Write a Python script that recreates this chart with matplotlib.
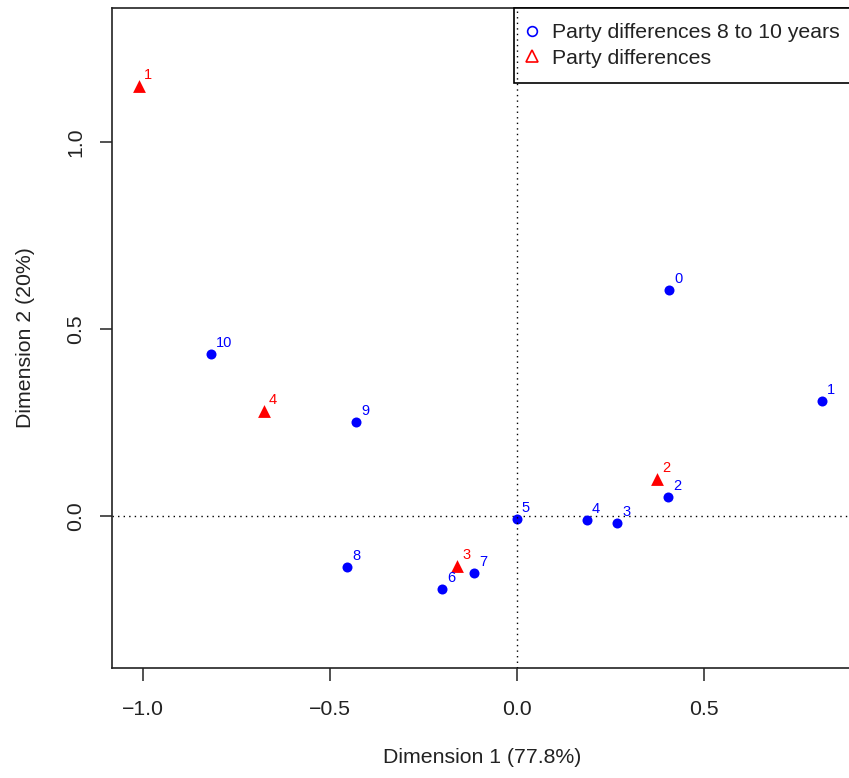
import matplotlib.pyplot as plt
from matplotlib.lines import Line2D

plt.rcParams["font.family"] = ["Liberation Sans", "DejaVu Sans"]

# row points: party differences 8 to 10 years
row_labels = ["0", "1", "2", "3", "4", "5", "6", "7", "8", "9", "10"]
row_x = [0.408, 0.817, 0.405, 0.269, 0.188, 0.000, -0.199, -0.114, -0.453, -0.429, -0.817]
row_y = [0.604, 0.307, 0.051, -0.019, -0.011, -0.008, -0.195, -0.152, -0.136, 0.251, 0.433]

# column points: party differences
col_labels = ["1", "2", "3", "4"]
col_x = [-1.009, 0.376, -0.159, -0.675]
col_y = [1.150, 0.099, -0.134, 0.281]

blue = "#0000ff"
red = "#ff0000"
txt = "#222222"

fig = plt.figure(figsize=(8.49, 7.78), dpi=100)
ax = fig.add_axes([112 / 849, 110 / 778, 740 / 849, 660 / 778])

ax.axhline(0, color="black", linestyle=(0, (1, 3)), linewidth=1)
# drawn over the legend, as in the original
ax.axvline(0, color="black", linestyle=(0, (1, 3)), linewidth=1, zorder=6)

ax.scatter(row_x, row_y, s=52, color=blue, marker="o", zorder=3, linewidths=0)
ax.scatter(col_x, col_y, s=85, color=red, marker="^", zorder=3, linewidths=0)
for lab, x, y in zip(row_labels, row_x, row_y):
    ax.annotate(lab, (x, y), xytext=(3.5, 5), textcoords="offset points",
                color=blue, fontsize=10.5)
for lab, x, y in zip(col_labels, col_x, col_y):
    ax.annotate(lab, (x, y), xytext=(3.5, 5), textcoords="offset points",
                color=red, fontsize=10.5)

ax.set_xlim(-1.082, -1.082 + 740 / 374)
ax.set_ylim(-0.406, 1.358)
ax.set_xticks([-1.0, -0.5, 0.0, 0.5])
ax.set_yticks([0.0, 0.5, 1.0])
ax.set_xticklabels(["\u22121.0", "\u22120.5", "0.0", "0.5"])
ax.set_yticklabels(["0.0", "0.5", "1.0"], rotation=90, va="center")
ax.tick_params(direction="out", length=9, width=1.2, labelsize=15.3,
               colors="#333333", labelcolor=txt)
ax.tick_params(axis="x", pad=14)
ax.tick_params(axis="y", pad=10)
for sp in ax.spines.values():
    sp.set_linewidth(1.2)
    sp.set_color("#222222")

ax.set_xlabel("Dimension 1 (77.8%)", fontsize=15.3, color=txt, labelpad=21)
ax.set_ylabel("Dimension 2 (20%)", fontsize=15.3, color=txt, labelpad=22.5)

handles = [
    Line2D([], [], marker="o", linestyle="none", markerfacecolor="none",
           markeredgecolor=blue, markersize=7, markeredgewidth=1.2,
           label="Party differences 8 to 10 years"),
    Line2D([], [], marker="^", linestyle="none", markerfacecolor="none",
           markeredgecolor=red, markersize=8, markeredgewidth=1.2,
           label="Party differences"),
]
leg = ax.legend(handles=handles, loc="upper left",
                bbox_to_anchor=(0.543, 0, 0.47, 1.0), mode="expand",
                fontsize=15.3, frameon=True, fancybox=False, framealpha=1,
                edgecolor="black", borderaxespad=0, handlelength=0.3,
                handletextpad=0.77, borderpad=0.72, labelspacing=0.3)
leg.get_frame().set_linewidth(1.2)
for t in leg.get_texts():
    t.set_color(txt)

fig.savefig("out.png", dpi=100)
